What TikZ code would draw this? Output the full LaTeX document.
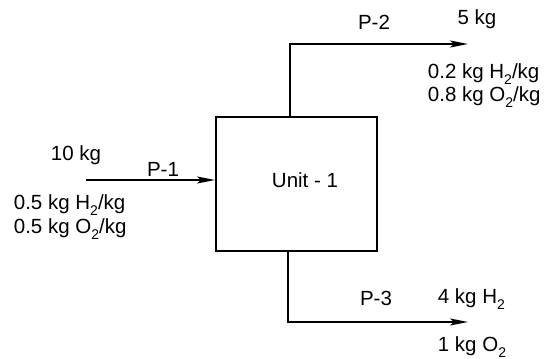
\documentclass[tikz,border=0pt]{standalone}
\usepackage{fontspec}
\setmainfont{Liberation Sans}
\usetikzlibrary{arrows.meta}
\newcommand{\sbs}[1]{\raisebox{-0.3em}{\fontsize{14}{14}\selectfont #1}}
\begin{document}
\begin{tikzpicture}[x=1pt,y=-1pt,
  line width=1.8pt,
  flow/.style={-{Stealth[length=18pt,width=7pt,inset=4pt]}},
  lbl/.style={font=\fontsize{20.5}{24}\selectfont, inner sep=0pt}]
  \useasboundingbox (0,0) rectangle (544,359);
  % process unit
  \node[draw, line width=1.8pt, minimum width=161pt, minimum height=134pt, inner sep=0pt, anchor=north west] (unit) at (215,116) {};
  \node[lbl] (unitlbl) at (305,180) {Unit - 1};
  % feed stream P-1
  \coordinate (p1in) at (86,180);
  \draw[flow] (p1in) -- (unit.west |- p1in);
  \node[lbl] (p1) at (163,169) {P-1};
  \node[lbl] (p1m) at (76,155) {10 kg};
  \node[lbl, anchor=west] (p1h) at (13,205) {0.5 kg H\sbs{2}/kg};
  \node[lbl, anchor=west] (p1o) at (13,229) {0.5 kg O\sbs{2}/kg};
  % top product P-2
  \coordinate (p2a) at (290,116);
  \coordinate (p2b) at (290,44);
  \coordinate (p2out) at (468,44);
  \draw[flow] (p2a) -- (p2b) -- (p2out);
  \node[lbl] (p2) at (374,22) {P-2};
  \node[lbl] (p2m) at (477,19) {5 kg};
  \node[lbl, anchor=west] (p2h) at (427,74) {0.2 kg H\sbs{2}/kg};
  \node[lbl, anchor=west] (p2o) at (427,97) {0.8 kg O\sbs{2}/kg};
  % bottom product P-3
  \coordinate (p3a) at (288,250);
  \coordinate (p3b) at (288,322);
  \coordinate (p3out) at (468,322);
  \draw[flow] (p3a) -- (p3b) -- (p3out);
  \node[lbl] (p3) at (376,298) {P-3};
  \node[lbl, anchor=west] (p3h) at (437,299) {4 kg H\sbs{2}};
  \node[lbl, anchor=west] (p3o) at (437,347) {1 kg O\sbs{2}};
\end{tikzpicture}
\end{document}
